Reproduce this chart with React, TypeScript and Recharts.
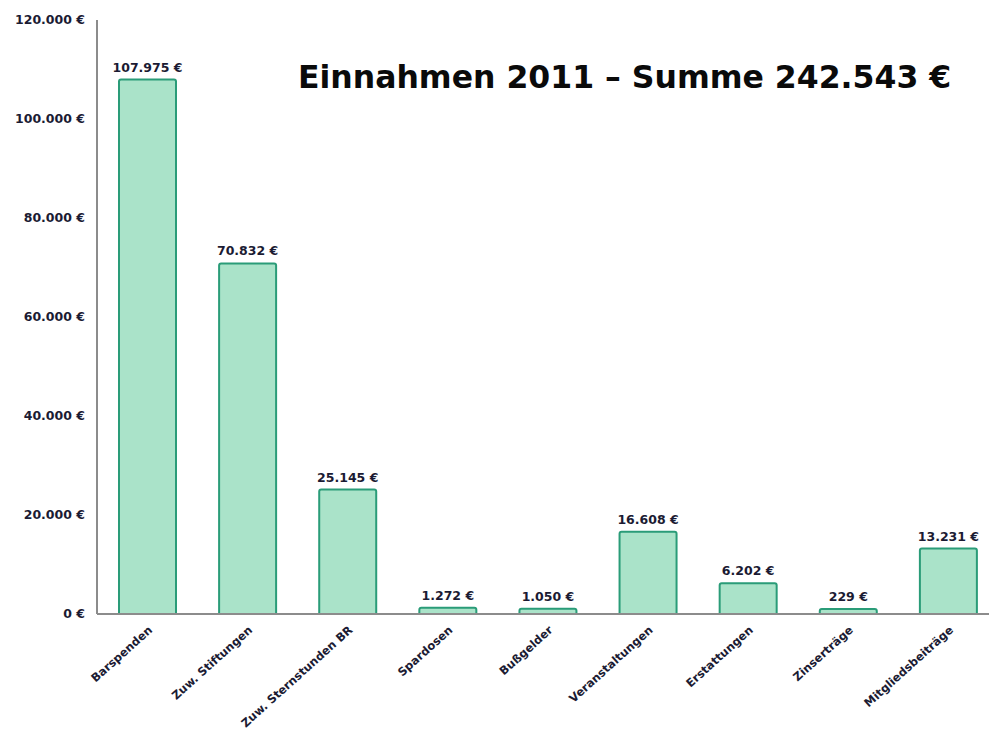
import React from 'react';
import { BarChart, Bar, XAxis, YAxis, LabelList } from 'recharts';

const categories = [
  'Barspenden',
  'Zuw. Stiftungen',
  'Zuw. Sternstunden BR',
  'Spardosen',
  'Bußgelder',
  'Veranstaltungen',
  'Erstattungen',
  'Zinserträge',
  'Mitgliedsbeiträge',
];
const amounts = [107975, 70832, 25145, 1272, 1050, 16608, 6202, 229, 13231];
const yTicks = [0, 20000, 40000, 60000, 80000, 100000, 120000];
const title = 'Einnahmen 2011 – Summe 242.543 €';

const data = categories.map((name, i) => ({ name, value: amounts[i] }));

const euro = (v: number) => `${v.toLocaleString('de-DE')} €`;

const FONT = '"DejaVu Sans", sans-serif';
const INK = '#1b1b33';

function RotatedTick(props: any) {
  const { x, y, payload } = props;
  return (
    <g transform={`translate(${x + 6},${y + 9})`}>
      <text
        transform="rotate(-42)"
        textAnchor="end"
        fontFamily={FONT}
        fontWeight="bold"
        fontSize={11.5}
        fill={INK}
      >
        {payload.value}
      </text>
    </g>
  );
}

// value above each bar, kept on one line
function ValueLabel(props: any) {
  const { x, y, width, value } = props;
  return (
    <text
      x={x + width / 2}
      y={y - 8}
      textAnchor="middle"
      fontFamily={FONT}
      fontWeight="bold"
      fontSize={12.5}
      fill={INK}
    >
      {euro(Number(value))}
    </text>
  );
}

export default function App() {
  return (
    <div
      style={{
        position: 'fixed',
        left: 0,
        top: 0,
        width: 989,
        height: 733,
        overflow: 'hidden',
        background: '#fff',
      }}
    >
      <BarChart
        width={1000}
        height={733}
        data={data}
        margin={{ top: 20, right: 2, bottom: 0, left: 0 }}
        barSize={57}
      >
        <XAxis
          dataKey="name"
          height={119}
          interval={0}
          tick={<RotatedTick />}
          tickLine={false}
          axisLine={{ stroke: '#8c8c8c', strokeWidth: 2 }}
        />
        <YAxis
          width={97}
          domain={[0, 120000]}
          ticks={yTicks}
          tickFormatter={euro}
          tickLine={false}
          axisLine={{ stroke: '#8c8c8c', strokeWidth: 2 }}
          tick={{ fontFamily: FONT, fontWeight: 'bold', fontSize: 12.5, fill: INK }}
          tickMargin={6}
        />
        <Bar
          dataKey="value"
          fill="#aae3c9"
          stroke="#2a9c78"
          strokeWidth={2}
          radius={[2, 2, 0, 0]}
          minPointSize={5}
          isAnimationActive={false}
        >
          <LabelList dataKey="value" content={<ValueLabel />} />
        </Bar>
      </BarChart>
      <div
        style={{
          position: 'absolute',
          left: 298,
          top: 59,
          fontFamily: FONT,
          fontWeight: 'bold',
          fontSize: 31.5,
          color: '#0a0a0a',
          whiteSpace: 'nowrap',
        }}
      >
        {title}
      </div>
    </div>
  );
}
